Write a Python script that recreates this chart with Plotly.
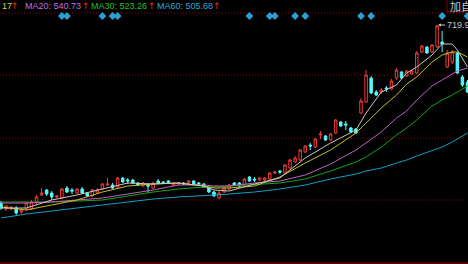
import plotly.graph_objects as go

# ---- candle data (index, price) ----
opens = [364,352,352,354,346,352,352,366,380,390,384,376,374,394,390,384,392,384,378,384,
         392,400,400,396,414,410,410,404,398,400,394,408,406,408,400,402,404,404,408,404,
         402,394,386,374,386,392,404,404,400,416,412,410,410,412,424,428,424,434,446,450,
         466,480,476,500,498,490,504,526,522,514,512,544,566,614,586,586,594,592,614,626,
         618,622,624,666,676,666,676,686,636,646,664,616,606]
highs = [368,360,358,358,354,366,370,380,394,392,388,380,394,398,394,394,396,386,392,394,
         404,414,404,416,416,414,412,406,406,404,406,412,408,410,406,406,406,410,410,406,
         404,396,388,388,398,402,406,406,414,418,416,416,416,426,428,430,442,452,458,472,
         480,484,494,508,500,504,532,528,528,516,514,574,630,618,590,594,598,612,634,628,
         630,630,668,680,678,682,719.9,708,670,670,666,620,610]
lows = [350,348,350,340,342,348,350,362,378,378,370,374,372,384,382,382,382,376,376,382,
        390,398,392,394,404,402,402,398,396,384,392,402,402,402,398,400,400,402,400,398,
        394,384,376,372,384,390,398,396,398,406,406,408,408,410,422,422,422,432,444,448,
        464,470,474,492,488,488,502,516,510,504,502,542,564,582,578,582,586,590,610,612,
        616,620,622,664,662,664,674,666,634,642,622,596,584]
closes = [354,358,356,344,350,364,366,376,384,382,376,378,392,386,388,392,384,378,390,390,
          402,402,394,414,406,408,404,400,404,398,404,404,404,404,404,404,402,408,402,402,
          396,386,378,384,394,400,400,398,412,408,410,414,414,424,426,426,440,450,454,470,
          478,478,492,502,490,502,530,518,520,506,504,568,620,584,580,590,592,608,630,614,
          628,628,664,678,664,680,718,682,664,666,624,600,586]
candle_idx = list(range(len(opens)))

# ---- moving averages ----
ma_idx = [0,5,10,15,20,25,30,35,40,42,45,50,55,60,65,70,72,75,78,80,82,85,87,89,90,92]
ma5  = [354,354,370,380,392,404,402,404,398,390,388,402,414,454,484,510,544,586,600,624,636,660,682,682,670,636]
ma10 = [356,350,360,370,386,398,402,404,398,394,394,398,416,444,470,504,524,554,580,602,616,646,660,666,666,656]
ma20 = [364,364,366,370,374,382,390,400,400,398,398,404,408,420,442,470,484,506,534,548,570,598,610,622,628,634]
ma30 = [366,366,366,368,370,378,386,392,396,396,398,400,404,412,428,446,456,476,500,514,530,558,570,580,586,598]
ma60 = [334,342,348,354,360,366,372,376,378,380,382,386,392,400,412,422,428,434,444,450,458,468,476,486,492,504]

event_idx = [12,13,20,22,23,49,53,54,58,60,71,73,87,92]
event_level = 738
grid_levels = [744, 620, 494, 370]
base_level = 244
peak_idx = 86
peak_val = 719.9

legend_texts = ["17", "MA20: 540.73", "MA30: 523.26", "MA60: 505.68"]
legend_colors = ["#d8d820", "#c070e0", "#20c020", "#30a8d8"]
legend_x = [0, 23, 89, 155]
arrow_x = [9, 80, 146, 211]

fig = go.Figure()

fig.add_trace(go.Candlestick(
    x=candle_idx, open=opens, high=highs, low=lows, close=closes,
    increasing=dict(line=dict(color="#f03c3c", width=1), fillcolor="#000000"),
    decreasing=dict(line=dict(color="#54f8f8", width=1), fillcolor="#54f8f8"),
    whiskerwidth=0, hoverinfo="skip",
))

for vals, col in [(ma60, "#10a0c8"), (ma30, "#10a810"), (ma20, "#c060c8"),
                  (ma10, "#c0c020"), (ma5, "#c8c8c8")]:
    fig.add_trace(go.Scatter(x=ma_idx, y=vals, mode="lines",
                             line=dict(color=col, width=1), hoverinfo="skip"))

fig.add_trace(go.Scatter(x=event_idx, y=[event_level]*len(event_idx), mode="markers",
                         marker=dict(symbol="diamond", size=6, color="#2aa0d8"),
                         hoverinfo="skip"))

shapes = []
for g in grid_levels:
    shapes.append(dict(type="line", xref="paper", x0=0, x1=1, yref="y", y0=g, y1=g,
                       line=dict(color="#900000", width=1, dash="1px,2px"), layer="below"))
shapes.append(dict(type="line", xref="paper", x0=0, x1=1, yref="y", y0=base_level, y1=base_level,
                   line=dict(color="#b00000", width=1)))
# add-to-watchlist button box
shapes.append(dict(type="rect", xref="paper", yref="paper", x0=447/468, x1=1.05,
                   y0=252/264, y1=1.05, line=dict(color="#800000", width=1),
                   fillcolor="#000000", layer="above"))

annotations = []
for t, c, xp in zip(legend_texts, legend_colors, legend_x):
    annotations.append(dict(text=t, xref="paper", yref="paper", x=xp/468, y=1 - 6/264,
                            xanchor="left", yanchor="middle", showarrow=False,
                            font=dict(family="Liberation Sans, Arial", size=9, color=c)))
for xp in arrow_x:
    annotations.append(dict(text="↑", xref="paper", yref="paper", x=xp/468, y=1 - 6/264,
                            xanchor="left", yanchor="middle", showarrow=False,
                            font=dict(family="DejaVu Sans", size=9, color="#ff2020")))
annotations.append(dict(text="加自选", xref="paper", yref="paper", x=448/468, y=1 - 6/264,
                        xanchor="left", yanchor="middle", showarrow=False,
                        font=dict(family="Noto Sans CJK SC", size=11, color="#c8c8c8")))
annotations.append(dict(text=f"{peak_val}", x=peak_idx, y=peak_val, xref="x", yref="y",
                        showarrow=True, ax=21, ay=0, arrowhead=2, arrowsize=0.6,
                        arrowwidth=1, arrowcolor="#c8c8c8", standoff=1,
                        font=dict(family="Liberation Sans, Arial", size=9, color="#c8c8c8")))

fig.update_layout(
    width=468, height=264, margin=dict(l=0, r=0, t=0, b=0),
    paper_bgcolor="#000000", plot_bgcolor="#000000", showlegend=False,
    shapes=shapes, annotations=annotations,
    xaxis=dict(range=[-0.2, 92.1], visible=False, rangeslider=dict(visible=False), fixedrange=True),
    yaxis=dict(range=[242, 770], visible=False, fixedrange=True),
)

fig.write_html("out.html", config={"displayModeBar": False})
